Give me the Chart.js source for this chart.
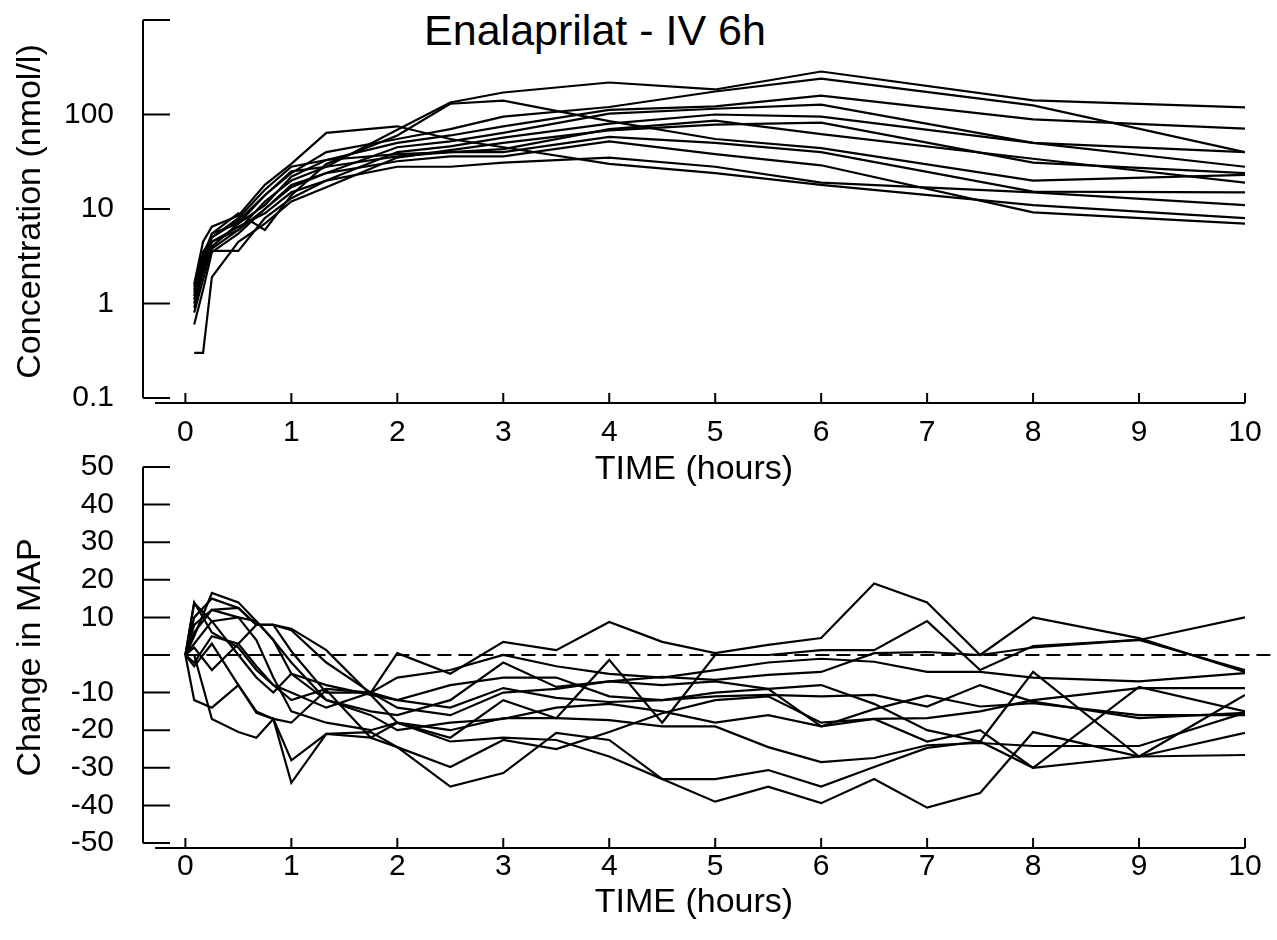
<!DOCTYPE html>
<html>
<head>
<meta charset="utf-8">
<title>Enalaprilat - IV 6h</title>
<script src="https://cdn.jsdelivr.net/npm/chart.js@4.4.1/dist/chart.umd.min.js"></script>
<style>
  html, body { margin: 0; padding: 0; background: #fff; }
  #wrap { position: relative; width: 1277px; height: 940px; overflow: hidden; }
  #title {
    position: absolute; left: 0; top: 5px; width: 1190px;
    text-align: center; font: 43px "Liberation Sans", Arial, sans-serif;
    line-height: 50px; color: #000;
  }
  canvas { position: absolute; left: 0; }
</style>
</head>
<body>
<div id="wrap">
  <div id="title">Enalaprilat - IV 6h</div>
  <canvas id="concChart" width="1277" height="490" style="top:0"></canvas>
  <canvas id="mapChart" width="1277" height="500" style="top:440px"></canvas>
</div>
<script>
// --- data (one array per subject) ---
const timeTicks = [0, 1, 2, 3, 4, 5, 6, 7, 8, 9, 10];

const concTimes = [0.083, 0.167, 0.25, 0.5, 0.75, 1, 1.33, 2, 2.5, 3, 4, 5, 6, 8, 10];
const concS1  = [1.2, 2.2, 4.5, 6, 12, 20, 28, 69, 134, 171, 218, 184, 285, 141, 119];
const concS2  = [0.8, 1.8, 4, 7, 14, 24, 40, 55, 70, 95, 120, 175, 240, 125, 40];
const concS3  = [1.5, 3.5, 5, 8, 16, 28, 33, 50, 60, 75, 112, 122, 158, 89, 71];
const concS4  = [0.6, 1.4, 3.5, 5.5, 10, 18, 24, 45, 52, 64, 102, 115, 127, 50, 40];
const concS5  = [1.0, 2.6, 4.5, 6.5, 9, 15, 20, 40, 46, 57, 80, 100, 95, 50, 28];
const concS6  = [0.3, 0.3, 1.9, 4.5, 7, 12, 17, 35, 42, 50, 68, 78, 82, 31, 24];
const concS7  = [1.3, 3.2, 5.5, 7, 11, 22, 33, 38, 40, 43, 70, 86, 62, 34, 19];
const concS8  = [1.1, 2.8, 5, 7.5, 14, 25, 28, 36, 40, 40, 58, 50, 40, 15.3, 15];
const concS9  = [0.9, 2.2, 3.8, 6, 10, 17, 24, 32, 36, 36, 52, 38, 29, 9.2, 7];
const concS10 = [1.4, 3.5, 3.6, 3.6, 8, 13, 20, 28, 28, 31, 35, 28, 19, 15, 11];
const concS11 = [1.6, 4.5, 6.5, 8.5, 18, 30, 64, 75, 55, 45, 30, 24, 18, 11, 8];
const concS12 = [1.2, 2.5, 5.5, 9, 6, 14, 30, 60, 130, 140, 85, 55, 44, 20, 23];

const concTicks = [0.1, 1, 10, 100, 1000];
const concTickLabels = ['0.1', '1', '10', '100', ''];

const mapTimes = [0, 0.083, 0.25, 0.5, 0.67, 0.83, 1, 1.33, 1.75, 2, 2.5, 3, 3.5, 4, 4.5, 5, 5.5, 6, 6.5, 7, 7.5, 8, 9, 10];
const mapS1  = [0, 14, 6, 2, -4, -8, -10, -14, -10, 0.5, -5, 3.5, 1.3, 8.8, 3.5, 0.5, 2.7, 4.5, 19, 14, 0, 10, 4.5, -4.5];
const mapS2  = [0, 5, 16.5, 14, 9, 4, -2, -12, -15, -16, -12, -2, -8.5, -7, -5.8, -6.6, -5.3, -4.5, 0.5, 0.8, 0, 2, 4, -4];
const mapS3  = [0, 10, 15, 12.5, 8, 8, 6.6, -2, -10, -12, -14, -8.8, -11.4, -12.5, -12, -11, -10.6, -11, -10.6, -13.7, -8, -12.4, -16.8, -15.4];
const mapS4  = [0, 3, 9, 10, 4, -6, -15, -18, -20, -18, -22, -12, -16.8, -1.3, -18, 0, 0, 1.3, 1.3, 9, -4, 2.4, 4, 10];
const mapS5  = [0, -12, -14, -8, -15, -17, -28, -21, -20.5, -24.5, -35, -31.4, -20.7, -22.6, -33, -39, -35, -39.4, -33, -40.6, -36.7, -20.5, -27, -10.6];
const mapS6  = [0, 0, -17, -20.5, -22, -17, -34, -21, -22, -18, -23, -22, -22.6, -27, -33, -33, -30.6, -35, -29.8, -24.7, -23, -30, -27, -20.7];
const mapS7  = [0, 8, 12, 12.5, 8, 8, 7, 1.3, -10.6, -18, -20, -16.8, -16.8, -17.3, -19, -19, -24.5, -28.5, -27.4, -24, -23.4, -24.2, -24.2, -15.4];
const mapS8  = [0, -3, 3, -8, -15.4, -17, -18, -9.3, -22, -24.5, -29.8, -22.6, -25, -20.5, -15.5, -12, -11, -18, -17, -16.8, -15, -12, -8.8, -8.8];
const mapS9  = [0, 13.8, 9, 0, -6, -10, -5, -8, -10.6, -12, -8, -6, -6, -11, -12, -10, -9, -19, -17, -23, -20, -30, -8.5, -15];
const mapS10 = [0, 2, -4, 3, 8, 8, 1, -10, -10, -14, -16, -10, -9, -7, -8, -7, -9, -8, -13, -20, -23, -4.5, -27, -26.6];
const mapS11 = [0, 6, 12, 10, 9, 4, -5, -12, -16, -20, -18, -17, -14, -13, -15, -18, -16, -19, -14.4, -10.8, -13.7, -12.8, -16, -16];
const mapS12 = [0, -2, 5, 3, -3, -8, -12, -9, -10, -6, -4, 0, -3, -5, -6, -4, -2, -1, -1.8, -4.5, -4.5, -6, -7, -4.8];

const baselineTimes = [0, 10.28];
const baselineValues = [0, 0];

const mapTicks = [-50, -40, -30, -20, -10, 0, 10, 20, 30, 40, 50];
const mapTickLabels = ['-50', '-40', '-30', '-20', '-10', '', '10', '20', '30', '40', '50'];

// --- helpers ---
const FONT = '"Liberation Sans", Arial, sans-serif';

function toPoints(times, values) {
  return times.map((t, i) => ({ x: t, y: values[i] }));
}

function subjectLine(times, values) {
  return {
    data: toPoints(times, values),
    borderColor: '#000',
    borderWidth: 2.2,
    pointRadius: 0,
    tension: 0,
    fill: false
  };
}

// axis lines with inward tick marks (axes not joined at the corner)
const axisFrame = {
  id: 'axisFrame',
  afterDraw(chart, args, opts) {
    const { ctx, chartArea } = chart;
    const xs = chart.scales.x;
    const ys = chart.scales.y;
    const yTop = ys.getPixelForValue(opts.yTicks[opts.yTicks.length - 1]);
    const yBot = ys.getPixelForValue(opts.yTicks[0]);

    ctx.save();
    ctx.strokeStyle = '#000';
    ctx.lineWidth = 2;
    ctx.beginPath();
    ctx.moveTo(chartArea.left, yTop);
    ctx.lineTo(chartArea.left, yBot);
    opts.yTicks.forEach(v => {
      const p = ys.getPixelForValue(v);
      ctx.moveTo(chartArea.left, p);
      ctx.lineTo(chartArea.left + 27, p);
    });
    ctx.moveTo(chartArea.left + 12, chartArea.bottom);
    ctx.lineTo(chartArea.right, chartArea.bottom);
    opts.xTicks.forEach(v => {
      const p = xs.getPixelForValue(v);
      ctx.moveTo(p, chartArea.bottom);
      ctx.lineTo(p, chartArea.bottom - 10);
    });
    ctx.stroke();
    ctx.restore();
  }
};

function xScale(height, labelPad, titlePad) {
  return {
    type: 'linear',
    min: -0.4,
    max: 10,
    afterFit: s => { s.height = height; },
    afterBuildTicks: s => { s.ticks = timeTicks.map(v => ({ value: v })); },
    grid: { display: false },
    border: { display: false },
    ticks: {
      autoSkip: false,
      maxRotation: 0,
      padding: labelPad,
      color: '#000',
      font: { family: FONT, size: 30 },
      callback: (v, i) => String(timeTicks[i])
    },
    title: {
      display: true,
      text: 'TIME (hours)',
      color: '#000',
      font: { family: FONT, size: 34 },
      padding: { top: 0, bottom: titlePad }
    }
  };
}

function yScale(type, min, max, ticks, labels, titleText) {
  return {
    type: type,
    min: min,
    max: max,
    afterFit: s => {
      s.width = 143;
      // keep the plot edges where the figure has them, not pushed by label overhang
      s.paddingTop = 0;
      s.paddingBottom = 0;
    },
    afterBuildTicks: s => { s.ticks = ticks.map(v => ({ value: v })); },
    grid: { display: false },
    border: { display: false },
    ticks: {
      autoSkip: false,
      padding: 21,
      color: '#000',
      font: { family: FONT, size: 30 },
      callback: (v, i) => labels[i]
    },
    title: {
      display: true,
      text: titleText,
      color: '#000',
      font: { family: FONT, size: 34 },
      padding: { top: 10, bottom: 0 }
    }
  };
}

const commonPlugins = {
  legend: { display: false },
  tooltip: { enabled: false },
  title: { display: false }
};

// --- concentration panel ---
const concSeries = [concS1, concS2, concS3, concS4, concS5, concS6, concS7, concS8, concS9, concS10, concS11, concS12];

new Chart(document.getElementById('concChart'), {
  type: 'line',
  data: {
    datasets: concSeries.map(s => subjectLine(concTimes, s))
  },
  options: {
    responsive: false,
    animation: false,
    devicePixelRatio: 1,
    layout: { padding: { top: 20, right: 32, left: 0, bottom: 0 } },
    scales: {
      x: xScale(87, 4, 0),
      y: yScale('logarithmic', 0.0885, 1000, concTicks, concTickLabels, 'Concentration (nmol/l)')
    },
    plugins: Object.assign({}, commonPlugins, {
      axisFrame: { xTicks: timeTicks, yTicks: concTicks }
    })
  },
  plugins: [axisFrame]
});

// --- blood pressure panel ---
const mapSeries = [mapS1, mapS2, mapS3, mapS4, mapS5, mapS6, mapS7, mapS8, mapS9, mapS10, mapS11, mapS12];

const mapDatasets = mapSeries.map(s => subjectLine(mapTimes, s));
mapDatasets.push({
  data: toPoints(baselineTimes, baselineValues),
  borderColor: '#000',
  borderWidth: 2,
  borderDash: [14, 7],
  pointRadius: 0,
  fill: false,
  clip: false
});

new Chart(document.getElementById('mapChart'), {
  type: 'line',
  data: { datasets: mapDatasets },
  options: {
    responsive: false,
    animation: false,
    devicePixelRatio: 1,
    layout: { padding: { top: 27, right: 32, left: 0, bottom: 0 } },
    scales: {
      x: xScale(92, -7, 17),
      y: yScale('linear', -51.33, 50, mapTicks, mapTickLabels, 'Change in MAP')
    },
    plugins: Object.assign({}, commonPlugins, {
      axisFrame: { xTicks: timeTicks, yTicks: mapTicks }
    })
  },
  plugins: [axisFrame]
});
</script>
</body>
</html>
